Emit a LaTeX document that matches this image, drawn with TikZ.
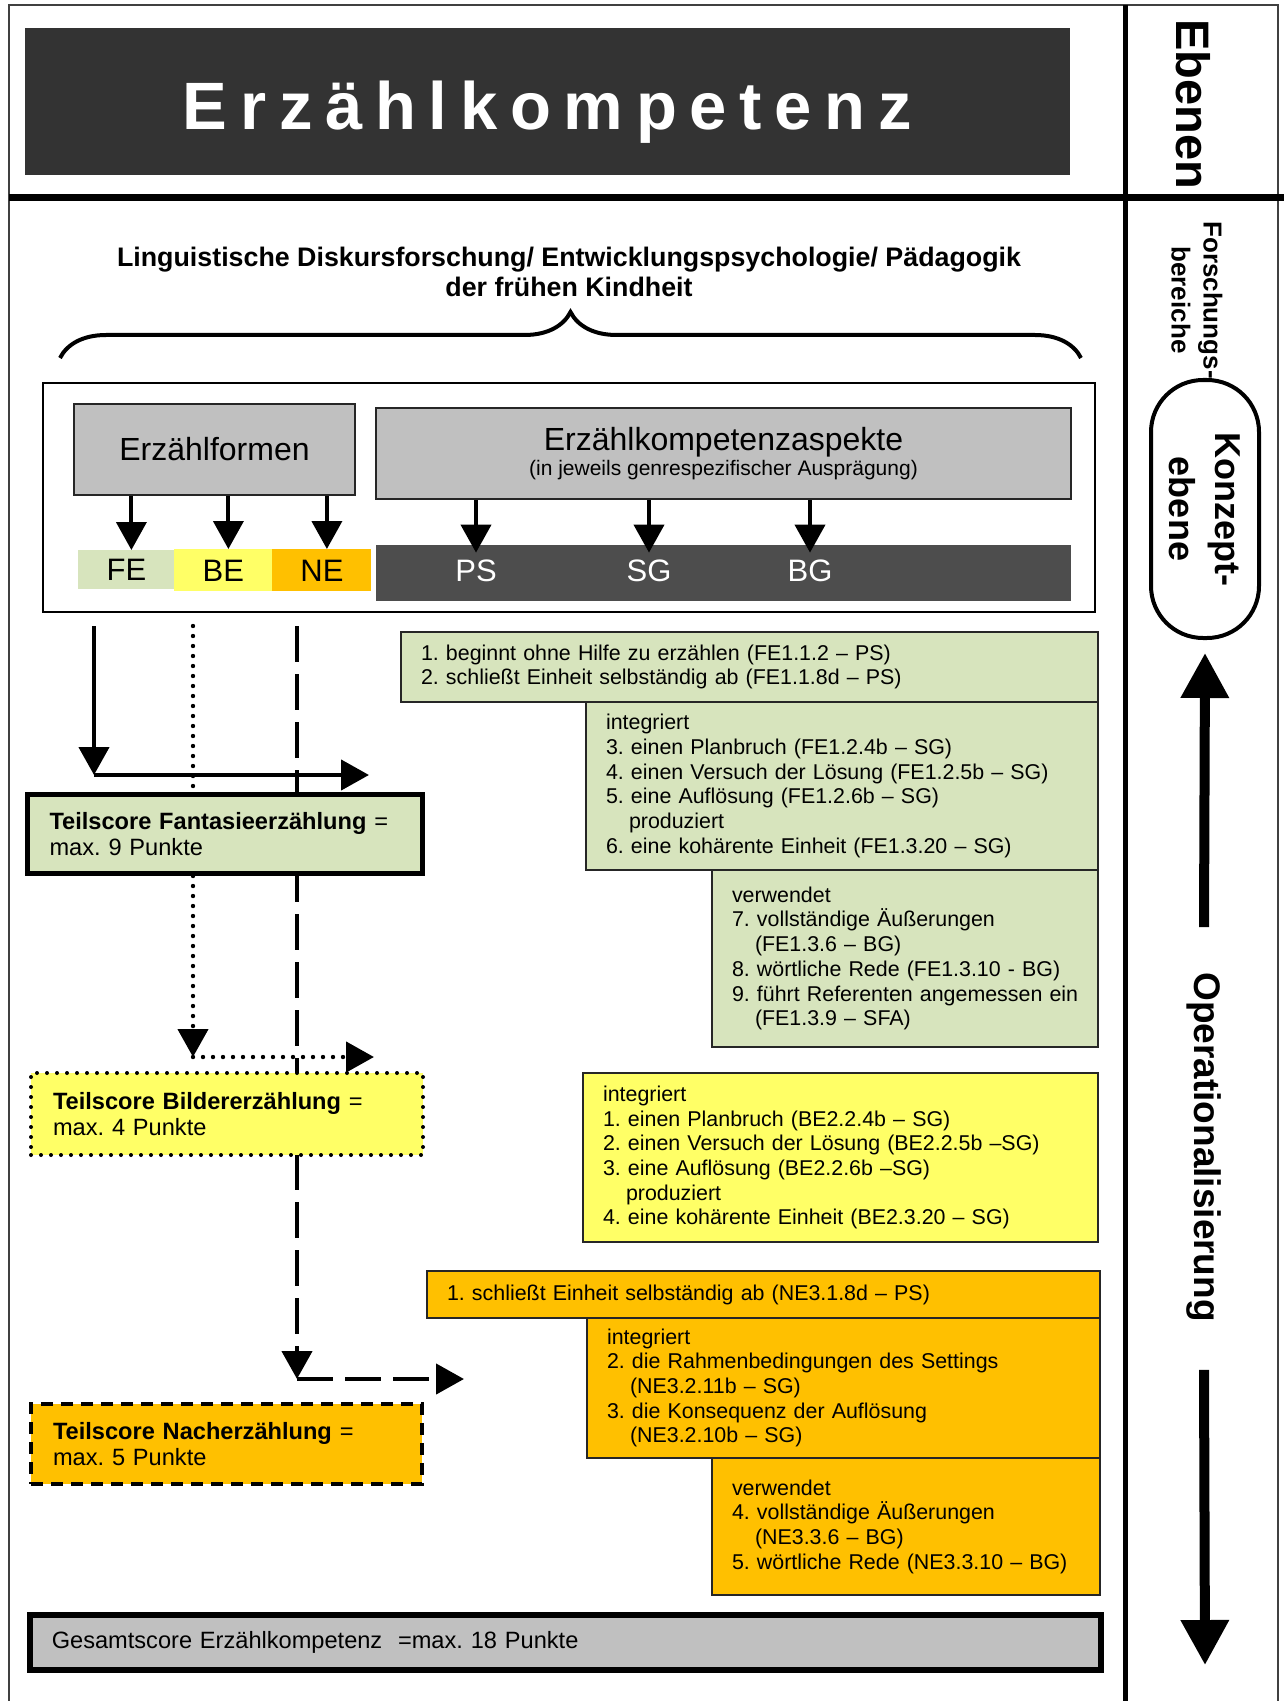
\documentclass[tikz,border=0pt]{standalone}
\usepackage{fontspec}
\setmainfont{Liberation Sans}
\newfontfamily\titlefont[LetterSpace=19]{Liberation Sans}
\usetikzlibrary{arrows.meta,decorations.pathreplacing}
\definecolor{titledark}{HTML}{333333}
\definecolor{bardark}{HTML}{4D4D4D}
\definecolor{boxgray}{HTML}{C0C0C0}
\definecolor{fegreen}{HTML}{D7E4BD}
\definecolor{beyellow}{HTML}{FFFF66}
\definecolor{neorange}{HTML}{FFC000}
\newcommand{\itemfont}{\fontsize{10.7}{12.35}\selectfont}
\newcommand{\scorefont}{\fontsize{11.8}{13.35}\selectfont}
\newcommand{\subindent}{\hspace*{11.5pt}}
\frenchspacing

\begin{document}
\begin{tikzpicture}[x=0.5pt, y=-0.5pt,
    pointer/.style={line width=2pt, -{Triangle[width=15pt,length=14pt]}},
    flow/.style={line width=2.2pt, -{Triangle[width=15pt,length=14pt]}},
    dotline/.style={dash pattern=on 0pt off 5pt, line cap=round},
    dashline/.style={dash pattern=on 18pt off 6pt},
    headbox/.style={draw=black!85, line width=1pt, fill=boxgray, inner sep=0pt, font=\fontsize{16}{19}\selectfont},
    formbox/.style={anchor=north west, inner sep=0pt, font=\fontsize{15.5}{18}\selectfont},
    itembox/.style={draw=black!85, line width=1pt, anchor=north west, align=left, inner xsep=10pt, inner ysep=0pt, font=\itemfont},
    scorebox/.style={draw, anchor=north west, align=left, inner xsep=11pt, inner ysep=0pt, font=\scorefont},
    sidetext/.style={rotate=-90, align=center},
    bigarrow/.style={line width=5pt, -{Triangle[width=23pt,length=22.5pt]}}]
    \useasboundingbox (0,0) rectangle (1284,1701);

    % Frame and level lines
    \draw[line width=1pt, black!75] (9,1701) -- (9,5) -- (1278,5) -- (1278,1701);
    \draw[line width=2.5pt] (1125,5) -- (1125,1701);
    \draw[line width=3.5pt] (9,198) -- (1284,198);

    \node[fill=titledark, minimum width=522.5pt, minimum height=73.5pt, text=white, text height=28.5pt, text depth=0pt, font=\titlefont\bfseries\fontsize{33.5}{40}\selectfont] (title) at (547.5,101.5) {Erzählkompetenz};

    % Levels column
    \node[sidetext, font=\bfseries\fontsize{23.5}{28}\selectfont] (ebenen) at (1193.5,104) {Ebenen};
    \node[sidetext, font=\bfseries\fontsize{13}{16}\selectfont] (bereiche) at (1197,300) {Forschungs-\\bereiche};
    \node[sidetext, draw, line width=2pt, rounded corners=26pt, minimum width=129pt, minimum height=54pt, font=\bfseries\fontsize{18}{23}\selectfont] (konzept) at (1205,509) {Konzept-\\ebene};
    \node[sidetext, font=\bfseries\fontsize{18.5}{22}\selectfont] (opera) at (1204,1147) {Operationalisierung};
    \coordinate (levelend) at (1205,1665);
    \draw[bigarrow] ([yshift=19pt]opera.west) -- ([yshift=-6.5pt]konzept.east);
    \draw[bigarrow] ([yshift=-20.5pt]opera.east) -- (levelend);

    % Research fields
    \node[font=\bfseries\fontsize{13.4}{15}\selectfont, align=center] (fields) at (569,272) {Linguistische Diskursforschung/ Entwicklungspsychologie/ Pädagogik\\der frühen Kindheit};
    \draw[line width=2pt, decorate, decoration={brace, amplitude=23pt}] (60,358) -- (1081,358);

    % Concept level
    \draw[line width=1pt] (43,383) rectangle (1095,612);
    \node[headbox, minimum width=140.5pt, minimum height=45.5pt] (formen) at (214.5,449.5) {Erzählformen};
    \node[headbox, minimum width=347.5pt, minimum height=45.5pt, align=center, font=\fontsize{16}{12.25}\selectfont] (aspekte) at (723.5,453.5) {Erzählkompetenzaspekte\\{\fontsize{10.5}{12}\selectfont(in jeweils genrespezifischer Ausprägung)}};
    \node[formbox, fill=fegreen, minimum width=48pt, minimum height=19.5pt] (fe) at (78,550) {FE};
    \node[formbox, fill=beyellow, minimum width=49pt, minimum height=21pt] (be) at (174,549) {BE};
    \node[formbox, fill=neorange, minimum width=49.5pt, minimum height=21pt] (ne) at (272,549) {NE};
    \node[fill=bardark, anchor=north west, minimum width=347.5pt, minimum height=28pt, inner sep=0pt] (aspektbar) at (376,545) {};
    \node[text=white, font=\fontsize{15.5}{18}\selectfont, inner sep=3.5pt] (ps) at (476,571) {PS};
    \node[text=white, font=\fontsize{15.5}{18}\selectfont, inner sep=3.5pt] (sg) at (649,571) {SG};
    \node[text=white, font=\fontsize{15.5}{18}\selectfont, inner sep=3.5pt] (bg) at (810,571) {BG};
    \draw[pointer] ([xshift=2.5pt]fe.north |- formen.south) -- ([xshift=2.5pt]fe.north);
    \draw[pointer] ([xshift=2.5pt]be.north |- formen.south) -- ([xshift=2.5pt]be.north);
    \draw[pointer] ([xshift=2.5pt]ne.north |- formen.south) -- ([xshift=2.5pt]ne.north);
    \draw[pointer] (ps.north |- aspekte.south) -- (ps.north);
    \draw[pointer] (sg.north |- aspekte.south) -- (sg.north);
    \draw[pointer] (bg.north |- aspekte.south) -- (bg.north);

    % Flow lines to the part scores
    \coordinate (fetail) at (94,626);
    \coordinate (febend) at (94,775);
    \coordinate (fehead) at (369,775);
    \coordinate (betail) at (193,626);
    \coordinate (bebend) at (193,1057);
    \coordinate (behead) at (374,1057);
    \coordinate (netail) at (297,626);
    \coordinate (nebend) at (297,1379);
    \coordinate (nehead) at (464,1379);
    \draw[flow] (fetail) -- (febend);
    \draw[flow] (febend) -- (fehead);
    \draw[flow, dotline] (betail) -- (bebend);
    \draw[flow, dotline] (bebend) -- (behead);
    \draw[flow, dashline] (netail) -- (nebend);
    \draw[flow, dashline] (nebend) -- (nehead);

    % Part scores
    \node[scorebox, fill=fegreen, line width=2.5pt, text width=175.5pt, minimum height=39.5pt] (fescore) at (25,792) {\textbf{Teilscore Fantasieerzählung} =\\max. 9 Punkte};
    \node[scorebox, fill=beyellow, line width=2pt, dotline, text width=174pt, minimum height=41pt] (bescore) at (29,1071) {\textbf{Teilscore Bildererzählung} =\\max. 4 Punkte};
    \node[scorebox, fill=neorange, line width=2pt, dash pattern=on 6pt off 4pt, text width=173.5pt, minimum height=40pt] (nescore) at (29,1402) {\textbf{Teilscore Nacherzählung} =\\max. 5 Punkte};
    \node[scorebox, fill=boxgray, line width=2.8pt, text width=513.5pt, minimum height=27.5pt] (total) at (27,1612) {Gesamtscore Erzählkompetenz\ \ =max. 18 Punkte};

    % Items of the fantasy story
    \node[itembox, fill=fegreen, text width=328.5pt, minimum height=35pt] (feitemsa) at (400,631) {1. beginnt ohne Hilfe zu erzählen (FE1.1.2 – PS)\\2. schließt Einheit selbständig ab (FE1.1.8d – PS)};
    \node[itembox, fill=fegreen, text width=236pt, minimum height=84pt] (feitemsb) at (585,701) {integriert\\3. einen Planbruch (FE1.2.4b – SG)\\4. einen Versuch der Lösung (FE1.2.5b – SG)\\5. eine Auflösung (FE1.2.6b – SG)\\\subindent produziert\\6. eine kohärente Einheit (FE1.3.20 – SG)};
    \node[itembox, fill=fegreen, text width=173pt, minimum height=88.5pt] (feitemsc) at (711,869) {verwendet\\7. vollständige Äußerungen\\\subindent(FE1.3.6 – BG)\\8. wörtliche Rede (FE1.3.10 - BG)\\\mbox{9. führt Referenten angemessen ein}\\\subindent(FE1.3.9 – SFA)};

    % Items of the picture story
    \node[itembox, fill=beyellow, text width=237.5pt, minimum height=84.5pt] (beitems) at (582,1072) {integriert\\1. einen Planbruch (BE2.2.4b – SG)\\2. einen Versuch der Lösung (BE2.2.5b –SG)\\3. eine Auflösung (BE2.2.6b –SG)\\\subindent produziert\\4. eine kohärente Einheit (BE2.3.20 – SG)};

    % Items of the retelling
    \node[itembox, fill=neorange, text width=316.5pt, minimum height=23.5pt] (neitemsa) at (426,1270) {1. schließt Einheit selbständig ab (NE3.1.8d – PS)};
    \node[itembox, fill=neorange, text width=236.5pt, minimum height=70pt] (neitemsb) at (586,1317) {integriert\\2. die Rahmenbedingungen des Settings\\\subindent(NE3.2.11b – SG)\\3. die Konsequenz der Auflösung\\\subindent(NE3.2.10b – SG)};
    \node[itembox, fill=neorange, text width=174pt, minimum height=68.5pt] (neitemsc) at (711,1457) {verwendet\\4. vollständige Äußerungen\\\subindent(NE3.3.6 – BG)\\5. wörtliche Rede (NE3.3.10 – BG)};
\end{tikzpicture}
\end{document}
